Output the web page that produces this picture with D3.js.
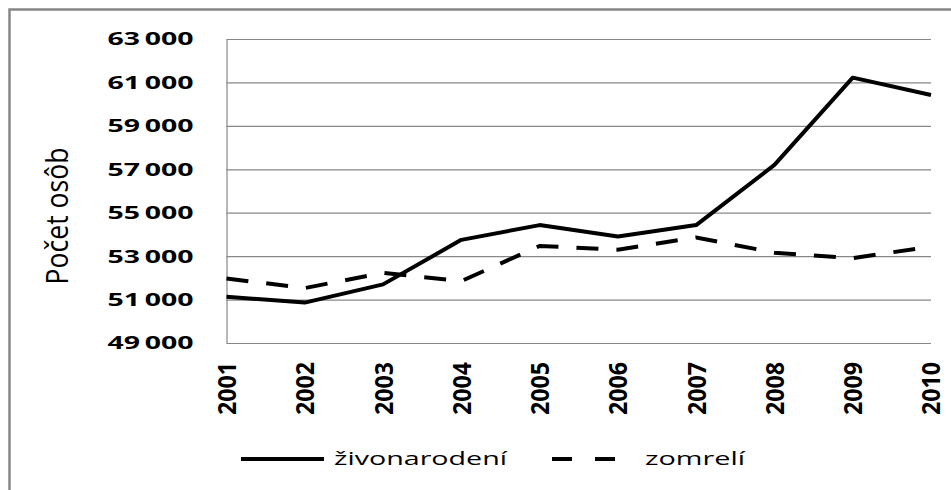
<!DOCTYPE html>
<html>
<head>
<meta charset="utf-8">
<script src="https://cdn.jsdelivr.net/npm/d3@7"></script>
<style>
  body { margin: 0; background: #fff; }
  svg { display: block; font-family: "Open Sans", "DejaVu Sans", sans-serif; }
</style>
</head>
<body>
<svg id="chart" width="951" height="490"></svg>
<script>
var years = ["2001", "2002", "2003", "2004", "2005", "2006", "2007", "2008", "2009", "2010"];
var births = [51130, 50860, 51700, 53750, 54430, 53900, 54430, 57200, 61220, 60420];
var deaths = [51970, 51530, 52230, 51850, 53470, 53300, 53860, 53160, 52910, 53440];
var yTicks = [49000, 51000, 53000, 55000, 57000, 59000, 61000, 63000];
var seriesNames = ["živonarodení", "zomrelí"];
var yTitle = "Počet osôb";

var svg = d3.select("#chart"),
  plot = { left: 226.5, right: 931, top: 39, bottom: 343 },
  gridColor = "#878787",
  x = d3.scalePoint().domain(years).range([plot.left, plot.right]),
  y = d3.scaleLinear().domain([49000, 63000]).range([plot.bottom, plot.top]),
  fmt = function(v) { return d3.format(",")(v).replace(",", "\u2009"); };

// outer chart frame, cut off on right and bottom like the source image
svg.append("path")
  .attr("d", "M9.5,500V9.5H960")
  .attr("fill", "none")
  .attr("stroke", gridColor)
  .attr("stroke-width", 2.5);

// y axis with gridlines
var yAxis = svg.append("g")
  .attr("transform", "translate(" + plot.left + ",0)")
  .call(d3.axisLeft(y).tickValues(yTicks).tickFormat(fmt)
    .tickSize(-(plot.right - plot.left)).tickSizeOuter(0).tickPadding(33));
yAxis.select(".domain").attr("stroke", gridColor).attr("stroke-width", 1.2);
yAxis.selectAll(".tick line").attr("stroke", gridColor).attr("stroke-width", 1.2);
yAxis.selectAll(".tick text")
  .attr("fill", "#000")
  .attr("font-size", 18.5)
  .attr("font-weight", "bold")
  .attr("font-family", "'Open Sans', 'DejaVu Sans', sans-serif")
  .attr("textLength", 86)
  .attr("lengthAdjust", "spacingAndGlyphs");

// x axis labels, rotated
var xAxis = svg.append("g")
  .attr("transform", "translate(0," + plot.bottom + ")")
  .call(d3.axisBottom(x).tickSize(0));
xAxis.select(".domain").remove();
xAxis.selectAll(".tick text")
  .attr("fill", "#000")
  .attr("font-size", 19)
  .attr("font-weight", "bold")
  .attr("font-family", "'Open Sans', 'DejaVu Sans', sans-serif")
  .attr("text-anchor", "end")
  .attr("x", null).attr("y", null).attr("dy", "0.35em")
  .attr("transform", "translate(0,19) scale(1.35,1) rotate(-90)")
  .attr("textLength", 53)
  .attr("lengthAdjust", "spacingAndGlyphs");

// y title
svg.append("text")
  .attr("transform", "translate(57,216) scale(1.3,1) rotate(-90)")
  .attr("text-anchor", "middle")
  .attr("dy", "0.35em")
  .attr("font-size", 24)
  .attr("textLength", 137)
  .attr("lengthAdjust", "spacingAndGlyphs")
  .text(yTitle);

// lines
var line = d3.line()
  .x(function(d, i) { return x(years[i]); })
  .y(function(d) { return y(d); });

svg.append("path")
  .datum(deaths)
  .attr("d", line)
  .attr("fill", "none")
  .attr("stroke", "#000")
  .attr("stroke-width", 4)
  .attr("stroke-dasharray", "22,18");

svg.append("path")
  .datum(births)
  .attr("d", line)
  .attr("fill", "none")
  .attr("stroke", "#000")
  .attr("stroke-width", 4)
  .attr("stroke-linejoin", "round");

// legend
var legend = svg.append("g").attr("transform", "translate(0,459)");
legend.append("line")
  .attr("x1", 241).attr("x2", 324)
  .attr("stroke", "#000").attr("stroke-width", 4);
legend.append("text")
  .attr("x", 334).attr("dy", "0.32em")
  .attr("font-size", 19)
  .attr("textLength", 173).attr("lengthAdjust", "spacingAndGlyphs")
  .text(seriesNames[0]);
legend.append("line")
  .attr("x1", 552).attr("x2", 616)
  .attr("stroke", "#000").attr("stroke-width", 4)
  .attr("stroke-dasharray", "20,23");
legend.append("text")
  .attr("x", 645).attr("dy", "0.32em")
  .attr("font-size", 19)
  .attr("textLength", 100).attr("lengthAdjust", "spacingAndGlyphs")
  .text(seriesNames[1]);
</script>
</body>
</html>
